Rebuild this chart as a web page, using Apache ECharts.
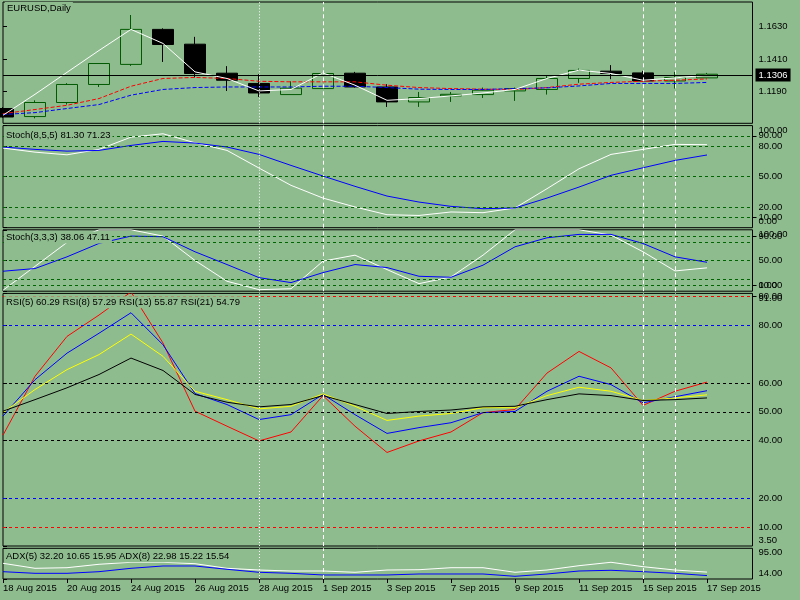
<!DOCTYPE html>
<html>
<head>
<meta charset="utf-8">
<script src="https://cdn.jsdelivr.net/npm/echarts/dist/echarts.min.js"></script>
<style>
  html, body { margin: 0; padding: 0; background: #8fbc8f; }
  #chart { width: 800px; height: 600px; }
</style>
</head>
<body>
<div id="chart"></div>
<script>
// 日期（日线）
var dates = ['18 Aug 2015', '19 Aug 2015', '20 Aug 2015', '21 Aug 2015', '24 Aug 2015', '25 Aug 2015',
  '26 Aug 2015', '27 Aug 2015', '28 Aug 2015', '31 Aug 2015', '1 Sep 2015', '2 Sep 2015', '3 Sep 2015',
  '4 Sep 2015', '7 Sep 2015', '8 Sep 2015', '9 Sep 2015', '10 Sep 2015', '11 Sep 2015', '14 Sep 2015',
  '15 Sep 2015', '16 Sep 2015', '17 Sep 2015'];

// K线
var open  = [1.1072, 1.1017, 1.1113, 1.1236, 1.1373, 1.1612, 1.1511, 1.1313, 1.1243, 1.1167, 1.1208, 1.1313,
  1.1219, 1.1117, 1.1158, 1.1167, 1.1192, 1.1202, 1.1277, 1.1327, 1.1315, 1.1260, 1.1281];
var close = [1.1014, 1.1113, 1.1236, 1.1379, 1.1612, 1.1509, 1.1311, 1.1265, 1.1178, 1.1211, 1.1311, 1.1219,
  1.1117, 1.1147, 1.1169, 1.1197, 1.1208, 1.1277, 1.1332, 1.1311, 1.1260, 1.1284, 1.1306];
var low   = [1.1010, 1.1005, 1.1099, 1.1219, 1.1363, 1.1390, 1.1284, 1.1192, 1.1151, 1.1167, 1.1208, 1.1215,
  1.1083, 1.1083, 1.1117, 1.1144, 1.1124, 1.1167, 1.1247, 1.1272, 1.1258, 1.1208, 1.1281];
var high  = [1.1081, 1.1128, 1.1245, 1.1382, 1.1710, 1.1619, 1.1561, 1.1361, 1.1306, 1.1258, 1.1315, 1.1322,
  1.1238, 1.1185, 1.1185, 1.1215, 1.1215, 1.1293, 1.1345, 1.1368, 1.1329, 1.1322, 1.1315];
var bidPrice = 1.1306;

// 均线
var maWhite = [1.1026, 1.1169, 1.1319, 1.1468, 1.1612, 1.1516, 1.1322, 1.1277, 1.1192, 1.1202, 1.1315, 1.1231,
  1.1128, 1.1140, 1.1158, 1.1178, 1.1202, 1.1277, 1.1334, 1.1311, 1.1265, 1.1281, 1.1299];
var maRed = [1.1037, 1.1065, 1.1094, 1.1140, 1.1224, 1.1277, 1.1284, 1.1277, 1.1258, 1.1254, 1.1254, 1.1254,
  1.1231, 1.1215, 1.1208, 1.1204, 1.1202, 1.1215, 1.1238, 1.1250, 1.1258, 1.1265, 1.1274];
var maBlue = [1.1031, 1.1044, 1.1072, 1.1099, 1.1163, 1.1202, 1.1215, 1.1219, 1.1219, 1.1219, 1.1224, 1.1224,
  1.1215, 1.1204, 1.1202, 1.1202, 1.1208, 1.1213, 1.1226, 1.1243, 1.1243, 1.1243, 1.1250];

// Stoch(8,5,5)
var stochSlowMain = [78, 74, 71.4, 76.7, 88.7, 92, 83.2, 75.7, 58.4, 41.5, 29, 20.3, 12.7, 12, 15.4, 14.7,
  19.3, 38.2, 57.7, 71.8, 76.7, 81.6, 81.30];
var stochSlowSignal = [79, 76.7, 75, 75.7, 80.6, 84.5, 82.9, 79, 71.8, 61, 50.6, 40.5, 31, 25.1, 20.9, 18.6,
  19.3, 29, 39.8, 51.3, 58.7, 65.9, 71.23];

// Stoch(3,3,3)
var stochFastMain = [1.5, 40.5, 79.4, 100, 100, 89.8, 50, 16.2, 2.5, 4, 49, 58.7, 35.2, 12.3, 23.2, 58.7,
  100, 100, 100, 91.5, 64.2, 33, 38.06];
var stochFastSignal = [32.5, 36.9, 56, 77.8, 89.8, 88.7, 64.2, 43.4, 22.1, 14, 30.3, 43.4, 38.5, 24.3, 22.7,
  42.4, 72.3, 87, 92.5, 92.5, 77.7, 56, 47.11];

// RSI
var rsi5 = [41.9, 62.3, 76.1, 83.5, 91.5, 73.8, 50.2, 45, 39.9, 43, 55.6, 45, 35.9, 39.9, 43, 49.7, 50.8,
  63.4, 70.9, 65.2, 52.2, 57.1, 60.29];
var rsi8 = [48.5, 61.1, 70.3, 77.2, 84.3, 73.2, 56.3, 52.5, 47.3, 49, 56, 49, 42.5, 44.5, 46.2, 49.7, 50.1,
  57.1, 62.3, 59.4, 53.1, 55.2, 57.29];
var rsi13 = [49.7, 57.7, 64.6, 69.8, 76.9, 69.2, 57.1, 54.2, 51, 51.9, 56.2, 51.9, 47, 48.5, 49.4, 51.4, 51.4,
  55.6, 58.5, 57.1, 53.9, 54.8, 55.87];
var rsi21 = [50.2, 54.2, 58.3, 62.9, 68.6, 64.3, 56, 53.3, 51.7, 52.5, 55.6, 52.5, 49.4, 50.1, 50.6, 51.7,
  51.9, 54.2, 56.2, 55.6, 53.9, 54.2, 54.79];

// ADX
var adx5 = [55.4, 42.2, 43.8, 52.8, 58.1, 58.1, 54.4, 42.2, 37.7, 35.1, 35.1, 31.7, 37.7, 38.5, 43.8, 43.8,
  31.7, 37.7, 49.1, 58.1, 46.5, 37.7, 32.20];
var adx8 = [33.3, 29, 29, 33.3, 42.2, 48.3, 48.3, 39.6, 31.7, 29, 24.6, 24.6, 24.6, 27.2, 27.2, 27.2, 21.1,
  27.2, 35.1, 37, 33.3, 29, 22.98];
var adx5Di = [10.65, 15.95];
var adx8Di = [15.22, 15.54];

// 刻度（重叠的标签放在第二条轴上）
var priceTicks = [1.1190, 1.1410, 1.1630];
var stochTicks = [0, 20, 50, 80, 100];
var stochTicksOverlap = [10, 90];
var stochLevels = [10, 20, 50, 80, 90];
var rsiTicks = [3.5, 10, 20, 40, 50, 60, 80, 91];
var rsiTicksOverlap = [90];
var rsiLevels = [90, 80, 60, 50, 40, 20, 10];
var adxTicks = [14, 95];

// 竖线
var dottedDates = ['28 Aug 2015'];
var dashedDates = ['1 Sep 2015', '15 Sep 2015', '16 Sep 2015'];

var BG = '#8fbc8f';
var FONT = '"Liberation Sans", Arial, sans-serif';
var FS = 9.5;

function pts(arr) {
  return arr.map(function (v, i) { return [i, v]; });
}

function vLines() {
  var out = [];
  dottedDates.forEach(function (d) {
    out.push({ xAxis: dates.indexOf(d), lineStyle: { color: '#fff', width: 1, type: [1, 2] } });
  });
  dashedDates.forEach(function (d) {
    out.push({ xAxis: dates.indexOf(d), lineStyle: { color: '#fff', width: 1, type: [4, 3] } });
  });
  return out;
}

function markLines(extra) {
  return {
    silent: true,
    symbol: 'none',
    animation: false,
    label: { show: false },
    data: vLines().concat(extra || [])
  };
}

function line(data, color, idx, dashed, ml) {
  var s = {
    type: 'line',
    xAxisIndex: idx,
    yAxisIndex: idx,
    data: pts(data),
    symbol: 'none',
    silent: true,
    clip: true,
    z: 3,
    lineStyle: { color: color, width: 1, type: dashed ? [4, 2] : 'solid' }
  };
  if (ml) s.markLine = ml;
  return s;
}

// 面板布局
var panes = [
  { top: 2, height: 121.3, min: 1.09711, max: 1.17988, ticks: priceTicks, dec: 4 },
  { top: 125.6, height: 102.1, min: 0, max: 100, ticks: stochTicks, extra: stochTicksOverlap, dec: 2 },
  { top: 229.8, height: 61.4, min: 0, max: 100, ticks: stochTicks, extra: stochTicksOverlap, dec: 2 },
  { top: 293.4, height: 252.6, min: 3.5, max: 91, ticks: rsiTicks, extra: rsiTicksOverlap, dec: 2 },
  { top: 548.3, height: 30.7, min: 14, max: 95, ticks: adxTicks, dec: 2 }
];
var plotW = 749.5;
var barStep = 32;
var xMax = plotW / barStep;
var dateTicks = dates.map(function (d, i) { return i; }).filter(function (i) { return i % 2 === 0; });

var grids = panes.map(function (p) {
  return { left: 3, width: plotW, top: p.top, height: p.height, show: true,
    borderColor: '#000', borderWidth: 1, backgroundColor: 'transparent' };
});

var xAxes = panes.map(function (p, i) {
  var last = i === panes.length - 1;
  return {
    type: 'value', gridIndex: i, min: 0, max: xMax, show: last,
    splitLine: { show: false },
    axisLine: { show: false },
    axisTick: { show: true, length: 4, customValues: dateTicks, lineStyle: { color: '#000' } },
    axisLabel: {
      customValues: dateTicks, align: 'left', margin: 4, color: '#000',
      fontSize: FS, fontFamily: FONT,
      showMinLabel: true, showMaxLabel: true,
      formatter: function (v) { return dates[v] || ''; }
    }
  };
});

function yAxisFor(p, i, ticks) {
  return {
    type: 'value', gridIndex: i, position: 'right', min: p.min, max: p.max,
    splitLine: { show: false },
    axisLine: { show: false },
    axisTick: { show: true, length: 4, customValues: ticks, lineStyle: { color: '#000' } },
    axisLabel: {
      customValues: ticks, margin: 6, color: '#000', fontSize: FS, fontFamily: FONT,
      showMinLabel: true, showMaxLabel: true, hideOverlap: false,
      formatter: function (v) {
        var s = v.toFixed(p.dec);
        if (i === 0) return s;
        if (v === p.max) return '{mx|' + s + '}';
        if (v === p.min) return '{mn|' + s + '}';
        return s;
      },
      rich: {
        mx: { padding: [9, 0, 0, 0], fontSize: FS, fontFamily: FONT, color: '#000' },
        mn: { padding: [0, 0, 12, 0], fontSize: FS, fontFamily: FONT, color: '#000' }
      }
    }
  };
}

var yAxes = panes.map(function (p, i) { return yAxisFor(p, i, p.ticks); });
panes.forEach(function (p, i) {
  if (p.extra) yAxes.push(yAxisFor(p, i, p.extra));
});

var stochLevelLines = stochLevels.map(function (v) {
  return { yAxis: v, lineStyle: { color: '#006400', width: 1, type: [3, 3] } };
});
function rsiColor(v) {
  if (v === 90 || v === 10) return '#ff0000';
  if (v === 80 || v === 20) return '#0000ff';
  return '#000';
}
var rsiLevelLines = rsiLevels.map(function (v) {
  return { yAxis: v, lineStyle: { color: rsiColor(v), width: 1, type: [3, 3] } };
});

var candleData = dates.map(function (d, i) {
  return [i, open[i], close[i], low[i], high[i]];
});

var series = [
  {
    type: 'candlestick',
    xAxisIndex: 0, yAxisIndex: 0,
    data: candleData,
    barWidth: 22,
    clip: true,
    silent: true,
    z: 2,
    itemStyle: {
      color: 'rgba(0,0,0,0)', color0: '#000',
      borderColor: '#005a00', borderColor0: '#000', borderWidth: 1
    },
    markLine: {
      silent: true, symbol: 'none', animation: false,
      label: { show: false },
      data: vLines().concat([{
        yAxis: bidPrice,
        lineStyle: { color: '#000', width: 1, type: 'solid' },
        label: {
          show: true, position: 'end', distance: 3,
          formatter: bidPrice.toFixed(4),
          backgroundColor: '#000', color: '#fff', padding: [2, 3, 1, 3],
          fontSize: FS, fontFamily: FONT
        }
      }])
    }
  },
  line(maRed, '#ff0000', 0, true),
  line(maBlue, '#0000ff', 0, true),
  line(maWhite, '#ffffff', 0, false),

  line(stochSlowMain, '#ffffff', 1, false, markLines(stochLevelLines)),
  line(stochSlowSignal, '#0000ff', 1, false),

  line(stochFastMain, '#ffffff', 2, false, markLines(stochLevelLines)),
  line(stochFastSignal, '#0000ff', 2, false),

  line(rsi5, '#ff0000', 3, false, markLines(rsiLevelLines)),
  line(rsi8, '#0000ff', 3, false),
  line(rsi13, '#ffff00', 3, false),
  line(rsi21, '#000000', 3, false),

  line(adx5, '#ffffff', 4, false, markLines()),
  line(adx8, '#0000ff', 4, false)
];

function last(a) { return a[a.length - 1].toFixed(2); }
function label(text, top) {
  return {
    text: text, left: 4, top: top, padding: [1, 2], backgroundColor: BG,
    textStyle: { fontSize: FS, fontWeight: 'normal', color: '#000', fontFamily: FONT }
  };
}

var titles = [
  label('EURUSD,Daily', 2),
  label('Stoch(8,5,5) ' + last(stochSlowMain) + ' ' + last(stochSlowSignal), 129),
  label('Stoch(3,3,3) ' + last(stochFastMain) + ' ' + last(stochFastSignal), 231.5),
  label('RSI(5) ' + last(rsi5) + ' RSI(8) ' + last(rsi8) + ' RSI(13) ' + last(rsi13) + ' RSI(21) ' + last(rsi21), 296.3),
  label('ADX(5) ' + last(adx5) + ' ' + adx5Di[0].toFixed(2) + ' ' + adx5Di[1].toFixed(2) +
    ' ADX(8) ' + last(adx8) + ' ' + adx8Di[0].toFixed(2) + ' ' + adx8Di[1].toFixed(2), 550.3)
];
titles[0].left = 5;

var chart = echarts.init(document.getElementById('chart'));
chart.setOption({
  backgroundColor: BG,
  animation: false,
  title: titles,
  grid: grids,
  xAxis: xAxes,
  yAxis: yAxes,
  series: series
});
</script>
</body>
</html>
